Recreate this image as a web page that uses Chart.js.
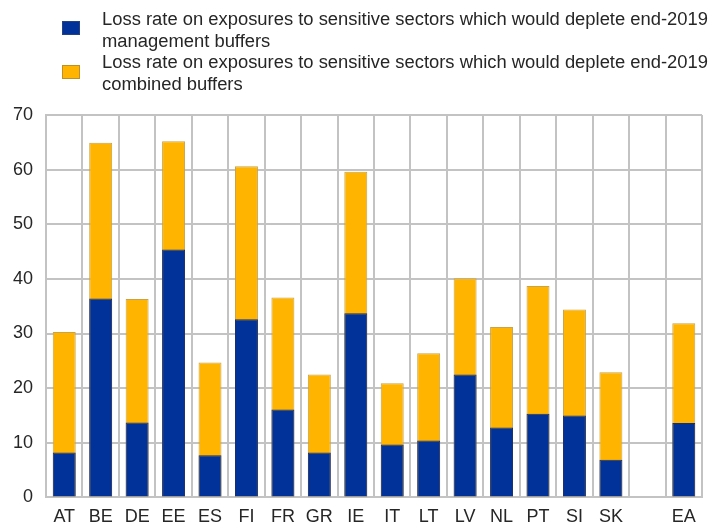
<!DOCTYPE html>
<html lang="en">
<head>
    <meta charset="UTF-8">
    <title>Loss rates on sensitive sector exposures</title>
    <script src="https://cdn.jsdelivr.net/npm/chart.js"></script>
    <style>
        body { margin: 0; background: #fff; }
        .wrap { position: relative; width: 715px; height: 526px; }
        canvas { position: absolute; left: 0; top: 0; }
        .legend { position: absolute; left: 0; top: 0; font-family: "Liberation Sans", Arial, sans-serif; font-size: 18px; color: #262626; }
        .legend .sw { position: absolute; left: 62px; width: 18px; height: 14px; box-sizing: border-box; border: 1px solid rgba(90,90,90,0.4); }
        .legend .txt { position: absolute; left: 102px; line-height: 21.5px; white-space: nowrap; transform-origin: 0 0; }
    </style>
</head>
<body>
    <div class="wrap">
        <canvas id="lossChart" width="715" height="526"></canvas>
        <div class="legend">
            <div class="sw" style="top: 21px; background: #003299;"></div>
            <div class="txt" id="lg1" style="top: 9px;">Loss rate on exposures to sensitive sectors which would deplete end-2019<br>management buffers</div>
            <div class="sw" style="top: 65px; background: #FFB400;"></div>
            <div class="txt" id="lg2" style="top: 52px;">Loss rate on exposures to sensitive sectors which would deplete end-2019<br>combined buffers</div>
        </div>
    </div>

    <script>
        const countries = ["AT", "BE", "DE", "EE", "ES", "FI", "FR", "GR", "IE", "IT", "LT", "LV", "NL", "PT", "SI", "SK", "", "EA"];
        // loss rates (%) that would deplete management buffers
        const managementBuffers = [8.2, 36.4, 13.7, 45.4, 7.7, 32.6, 16.1, 8.2, 33.7, 9.7, 10.4, 22.5, 12.8, 15.3, 15.0, 6.9, null, 13.6];
        // loss rates (%) that would deplete combined buffers
        const combinedBuffers = [30.3, 64.9, 36.3, 65.2, 24.7, 60.6, 36.6, 22.5, 59.6, 20.9, 26.4, 40.1, 31.2, 38.7, 34.4, 22.9, null, 31.9];
        const yTicks = [0, 10, 20, 30, 40, 50, 60, 70];

        const fontFamily = '"Liberation Sans", Arial, sans-serif';
        const gridColor = "#c3c3c3";

        const ctx = document.getElementById("lossChart").getContext("2d");
        new Chart(ctx, {
            type: "bar",
            data: {
                labels: countries,
                datasets: [{
                    label: "management buffers",
                    data: managementBuffers,
                    backgroundColor: "#003299",
                    borderColor: "#1a2f6e",
                    borderWidth: 1,
                    grouped: false
                }, {
                    label: "combined buffers",
                    data: combinedBuffers,
                    backgroundColor: "#FFB400",
                    borderColor: "#c9a24a",
                    borderWidth: 1,
                    grouped: false
                }]
            },
            options: {
                responsive: false,
                animation: false,
                layout: { padding: { top: 115, left: 0, right: 13, bottom: -11 } },
                plugins: {
                    legend: { display: false },
                    tooltip: { enabled: false }
                },
                datasets: {
                    bar: { categoryPercentage: 1, barPercentage: 0.63 }
                },
                scales: {
                    x: {
                        grid: { color: gridColor, lineWidth: 2, drawTicks: false },
                        border: { color: gridColor, width: 2 },
                        ticks: {
                            color: "#262626",
                            padding: 9,
                            maxRotation: 0,
                            autoSkip: false,
                            font: { family: fontFamily, size: 18 }
                        }
                    },
                    y: {
                        min: 0,
                        max: 70,
                        afterBuildTicks: axis => { axis.ticks = yTicks.map(v => ({ value: v })); },
                        grid: { color: gridColor, lineWidth: 2, drawTicks: false },
                        border: { color: gridColor, width: 2 },
                        ticks: {
                            color: "#262626",
                            padding: 13,
                            font: { family: fontFamily, size: 18 }
                        }
                    }
                }
            }
        });

        // stretch legend lines to span the same width as the plot header
        ["lg1", "lg2"].forEach(id => {
            const el = document.getElementById(id);
            const w = el.getBoundingClientRect().width;
            el.style.transform = "scaleX(" + (606 / w) + ")";
        });
    </script>
</body>
</html>
